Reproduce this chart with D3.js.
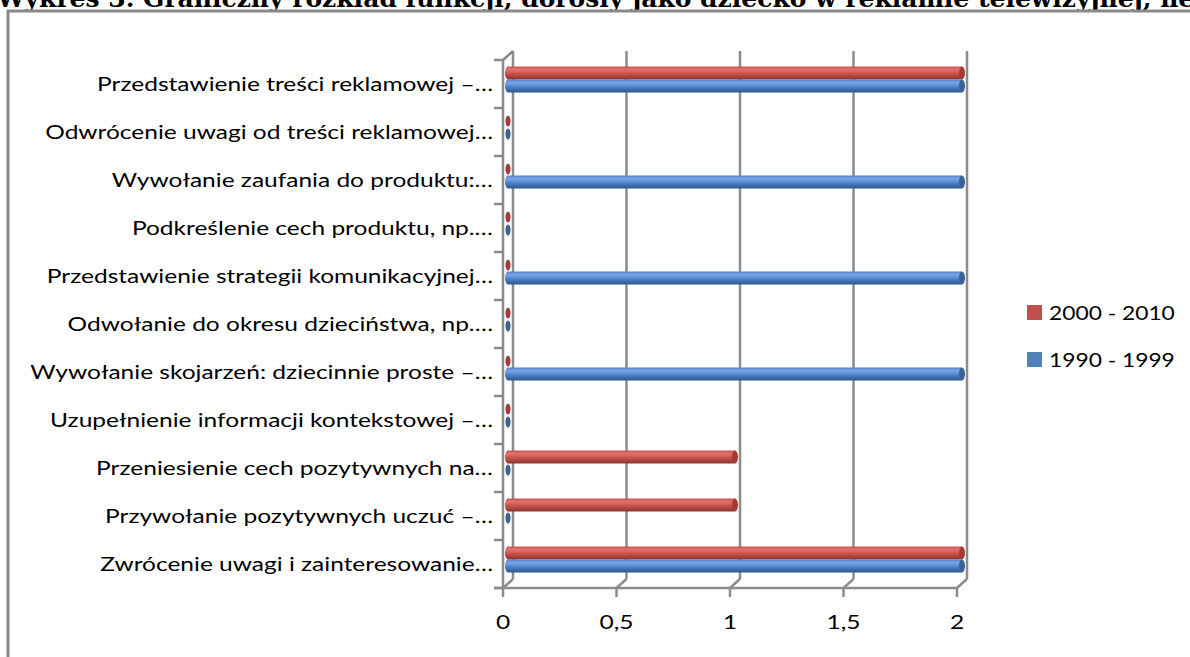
<!DOCTYPE html>
<html>
<head>
<meta charset="utf-8">
<script src="https://cdn.jsdelivr.net/npm/d3@7"></script>
<style>
  html, body { margin: 0; padding: 0; background: #fff; }
  svg { display: block; }
</style>
</head>
<body>
<svg id="chart" width="1190" height="657"></svg>
<script>
// Categories listed top to bottom as they appear on the vertical axis
const categories = [
  "Przedstawienie treści reklamowej –…",
  "Odwrócenie uwagi od treści reklamowej…",
  "Wywołanie zaufania do produktu:…",
  "Podkreślenie cech produktu, np.…",
  "Przedstawienie strategii komunikacyjnej…",
  "Odwołanie do okresu dzieciństwa, np.…",
  "Wywołanie skojarzeń: dziecinnie proste –…",
  "Uzupełnienie informacji kontekstowej –…",
  "Przeniesienie cech pozytywnych na…",
  "Przywołanie pozytywnych uczuć –…",
  "Zwrócenie uwagi i zainteresowanie…"
];
const seriesNames = ["2000 - 2010", "1990 - 1999"];
const values2000 = [2, 0, 0, 0, 0, 0, 0, 0, 1, 1, 2];
const values1990 = [2, 0, 2, 0, 2, 0, 2, 0, 0, 0, 2];
const xTicks = [0, 0.5, 1, 1.5, 2];
const xTickLabels = ["0", "0,5", "1", "1,5", "2"];
const titleText = "Wykres 3. Graniczny rozkład funkcji, dorosły jako dziecko w reklamie telewizyjnej, ne";

const svg = d3.select("#chart");
const FONT = "Lato, 'Open Sans', sans-serif";
const GRID = "#8c8c8c";
const STRETCH = 1.29; // horizontal stretch of the label type

// Page title, running off the top edge
svg.append("text")
  .attr("x", -3).attr("y", 7)
  .attr("font-family", "'DejaVu Serif', 'Liberation Serif', serif")
  .attr("font-weight", "bold")
  .attr("font-size", 25)
  .attr("fill", "#000")
  .text(titleText);

// Chart frame
svg.append("path")
  .attr("d", "M8,660 L8,11 L1195,11")
  .attr("fill", "none")
  .attr("stroke", "#8a8a8a")
  .attr("stroke-width", 3);

// Scales (front plane) and 3D depth offset
const x = d3.scaleLinear().domain([0, 2]).range([503, 957]);
const y = d3.scaleBand().domain(categories).range([60, 588]);
const sub = d3.scaleBand().domain(seriesNames).range([11, 37]);
const depth = { dx: 10, dy: -9 };
const yBottom = 588, yTop = 60;

// Gridlines on the back wall plus floor diagonals
const grid = svg.append("g");
xTicks.forEach(t => {
  const fx = x(t), bx = x(t) + depth.dx;
  grid.append("line")
    .attr("x1", bx).attr("x2", bx)
    .attr("y1", yTop + depth.dy).attr("y2", yBottom + depth.dy)
    .attr("stroke", GRID).attr("stroke-width", 2.5);
  grid.append("line")
    .attr("x1", fx).attr("x2", bx)
    .attr("y1", yBottom).attr("y2", yBottom + depth.dy)
    .attr("stroke", GRID).attr("stroke-width", 2.5);
});
// Left wall top edge
grid.append("line")
  .attr("x1", x(0)).attr("x2", x(0) + depth.dx)
  .attr("y1", yTop).attr("y2", yTop + depth.dy)
  .attr("stroke", GRID).attr("stroke-width", 2.5);

// Vertical axis line with category tick marks
grid.append("line")
  .attr("x1", x(0)).attr("x2", x(0))
  .attr("y1", yTop).attr("y2", yBottom)
  .attr("stroke", GRID).attr("stroke-width", 2.5);
const bounds = categories.map(c => y(c)).concat([yBottom]);
bounds.forEach(b => {
  grid.append("line")
    .attr("x1", x(0) - 9).attr("x2", x(0))
    .attr("y1", b).attr("y2", b)
    .attr("stroke", GRID).attr("stroke-width", 2.5);
});

// Horizontal axis line with ticks
grid.append("line")
  .attr("x1", x(0) - 9).attr("x2", x(2))
  .attr("y1", yBottom).attr("y2", yBottom)
  .attr("stroke", GRID).attr("stroke-width", 2.5);
xTicks.forEach(t => {
  grid.append("line")
    .attr("x1", x(t)).attr("x2", x(t))
    .attr("y1", yBottom).attr("y2", yBottom + 9)
    .attr("stroke", GRID).attr("stroke-width", 2.5);
});

// Tick labels
svg.append("g").selectAll("text")
  .data(xTicks)
  .join("text")
  .attr("transform", d => `translate(${x(d)},629) scale(${STRETCH},1)`)
  .attr("text-anchor", "middle")
  .attr("font-family", FONT)
  .attr("font-size", 19)
  .attr("fill", "#000")
  .text((d, i) => xTickLabels[i]);

svg.append("g").selectAll("text")
  .data(categories)
  .join("text")
  .attr("transform", d => `translate(493,${y(d) + y.bandwidth() / 2 + 7}) scale(${STRETCH},1)`)
  .attr("text-anchor", "end")
  .attr("font-family", FONT)
  .attr("font-size", 19)
  .attr("fill", "#000")
  .text(d => d);

// Cylinder gradients
const defs = svg.append("defs");
const palettes = {
  "2000 - 2010": { light: "#e07470", mid: "#c9524e", dark: "#8e3230", cap: "#a33c39", base: "#C0504D" },
  "1990 - 1999": { light: "#7aa6e0", mid: "#4f85cc", dark: "#2d5489", cap: "#3a6397", base: "#4F81BD" }
};
seriesNames.forEach((s, i) => {
  const p = palettes[s];
  const g = defs.append("linearGradient")
    .attr("id", "cyl" + i)
    .attr("x1", 0).attr("x2", 0).attr("y1", 0).attr("y2", 1);
  g.append("stop").attr("offset", "0%").attr("stop-color", p.mid);
  g.append("stop").attr("offset", "25%").attr("stop-color", p.light);
  g.append("stop").attr("offset", "55%").attr("stop-color", p.mid);
  g.append("stop").attr("offset", "100%").attr("stop-color", p.dark);
});

// Bars drawn as horizontal cylinders, placed at half depth
const bars = svg.append("g");
const seriesValues = [values2000, values1990];
categories.forEach((c, ci) => {
  seriesNames.forEach((s, si) => {
    const v = seriesValues[si][ci];
    const p = palettes[s];
    const h = sub.bandwidth();
    const top = y(c) + sub(s) + depth.dy / 2;
    const cy = top + h / 2;
    const x0 = x(0) + depth.dx / 2;
    const x1 = x(v) + depth.dx / 2;
    if (v > 0) {
      bars.append("ellipse")
        .attr("cx", x0).attr("cy", cy).attr("rx", 3).attr("ry", h / 2)
        .attr("fill", "url(#cyl" + si + ")");
      bars.append("rect")
        .attr("x", x0).attr("y", top)
        .attr("width", x1 - x0).attr("height", h)
        .attr("fill", "url(#cyl" + si + ")");
      bars.append("ellipse")
        .attr("cx", x1).attr("cy", cy).attr("rx", 3).attr("ry", h / 2)
        .attr("fill", p.cap);
    } else {
      bars.append("ellipse")
        .attr("cx", x0).attr("cy", cy).attr("rx", 2.5).attr("ry", h / 2 - 1)
        .attr("fill", p.cap);
    }
  });
});

// Legend
const legend = svg.append("g");
seriesNames.forEach((s, i) => {
  const ly = 305 + i * 47;
  legend.append("rect")
    .attr("x", 1027).attr("y", ly)
    .attr("width", 15).attr("height", 15)
    .attr("fill", palettes[s].base);
  legend.append("text")
    .attr("transform", `translate(1049,${ly + 15}) scale(1.2,1)`)
    .attr("font-family", FONT)
    .attr("font-size", 19)
    .attr("fill", "#000")
    .text(s);
});
</script>
</body>
</html>
